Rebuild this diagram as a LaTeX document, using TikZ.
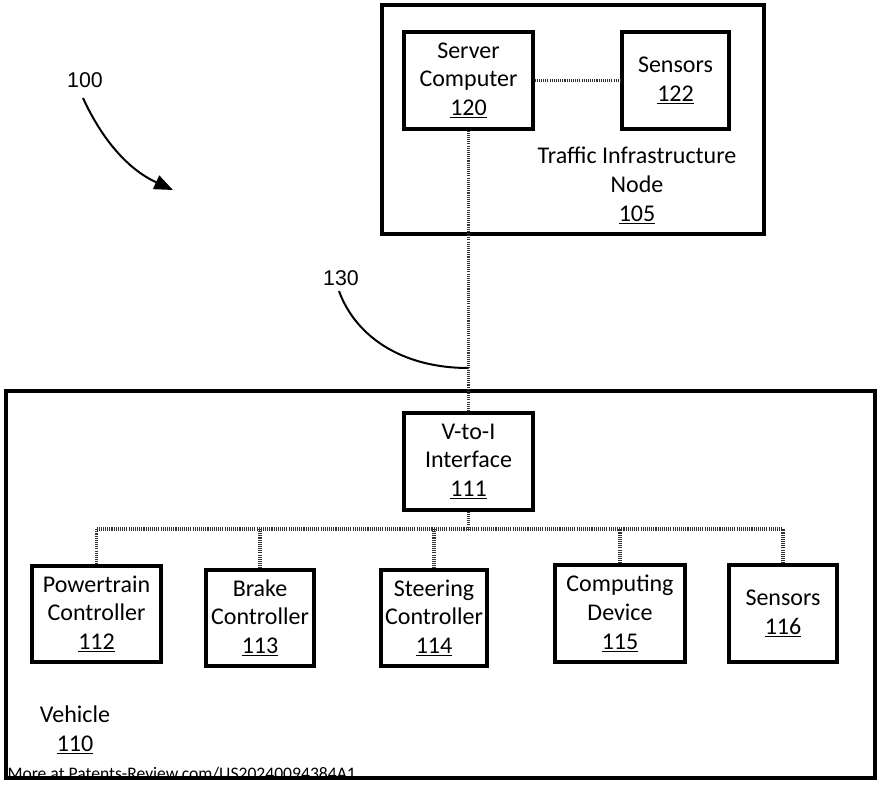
\documentclass[tikz,border=0pt]{standalone}
\usepackage{fontspec}
\setmainfont{Carlito}
\newfontfamily\reffont{Liberation Sans}
\usetikzlibrary{arrows.meta}

\tikzset{every picture/.style={line width=0.75pt}}
\tikzset{
  blk/.style={draw, line width=2.4pt, align=center, inner sep=0pt,
    font=\fontsize{18}{21.5}\selectfont},
  lbl/.style={align=center, inner sep=0pt, font=\fontsize{18}{21.5}\selectfont},
  refnum/.style={inner sep=0pt, font=\reffont\fontsize{16}{19}\selectfont},
  bus/.style={draw=black!80, line width=2.4pt, dash pattern=on 0.8pt off 0.8pt},
}

\begin{document}
\begin{tikzpicture}[x=0.75pt,y=0.75pt,yscale=-1,xscale=1]
\useasboundingbox (0,0) rectangle (880,792);

%Shape: Rectangle [traffic infrastructure node]
\draw [line width=2.4pt] (382,5) rectangle (764,234);
%Shape: Rectangle [vehicle]
\draw [line width=2.4pt] (6,391) rectangle (875,778);

% Boxes
\node [blk, minimum width=129*0.75pt, minimum height=97*0.75pt] (srv) at (468.5,80.5) {Server\\Computer\\\underline{120}};
\node [blk, minimum width=107*0.75pt, minimum height=97*0.75pt] (isens) at (675.5,80.5) {Sensors\\\underline{122}};
\node [blk, minimum width=129*0.75pt, minimum height=97*0.75pt] (vti) at (468.5,461.5) {V-to-I\\Interface\\\underline{111}};

\node [blk, minimum width=129*0.75pt, minimum height=96*0.75pt] (ptc) at (96.5,614) {Powertrain\\Controller\\\underline{112}};
\node [blk, minimum width=108*0.75pt, minimum height=96*0.75pt] (brk) at (260,618) {Brake\\Controller\\\underline{113}};
\node [blk, minimum width=106*0.75pt, minimum height=96*0.75pt] (str) at (434,618) {Steering\\Controller\\\underline{114}};
\node [blk, minimum width=130*0.75pt, minimum height=97*0.75pt] (cmp) at (620,613.5) {Computing\\Device\\\underline{115}};
\node [blk, minimum width=108*0.75pt, minimum height=97*0.75pt] (vsens) at (783,613.5) {Sensors\\\underline{116}};

% Connectors
\coordinate (bus) at (468.5,529);
\coordinate (tap) at (468.5,368);
\draw [bus] (srv.east) -- (isens.west);
\draw [bus] (srv.south) -- (vti.north);
\draw [bus] (vti.south) -- (vti.south |- bus);
\draw [bus] (ptc.north |- bus) -- (vsens.north |- bus);
\foreach \n in {ptc,brk,str,cmp,vsens}
  \draw [bus] (\n.north) -- (\n.north |- bus);

% Text Node
\node [lbl] (tin) at (637,185.5) {Traffic Infrastructure\\Node\\\underline{105}};
% Text Node
\node [lbl] (veh) at (75,730) {Vehicle\\\underline{110}};
% Text Node
\node [anchor=west, inner sep=0pt, font=\fontsize{13.2}{15}\selectfont] (wm) at (7,773.5) {More at Patents-Review.com/US20240094384A1};

% Reference numerals
\node [refnum] (r100) at (85,80) {100};
\coordinate (a100) at (173,190);
\draw [line width=1.5pt, -{Triangle[length=14pt,width=11pt]}] (r100.south) ++(-2,10) .. controls (100,135) and (125,168) .. (a100);
\node [refnum] (r130) at (341,278) {130};
\draw [line width=1.5pt] (r130.south) ++(-2,5) .. controls (355,335) and (400,368) .. (tap);

\end{tikzpicture}
\end{document}
